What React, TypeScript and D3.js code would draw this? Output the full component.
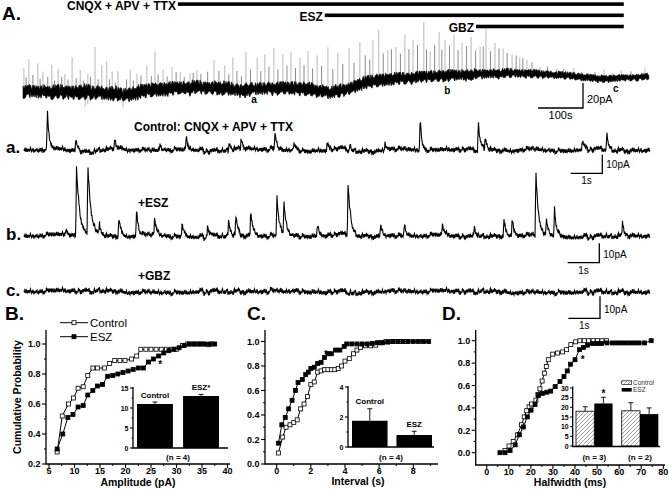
import React from "react";
import * as d3 from "d3";

const FONT = "'Liberation Sans', Arial, Helvetica, sans-serif";

// hand typed noise texture (-1..1), used for the recording traces
const JITTER = [0.3, -0.7, 0.9, -0.2, -0.8, 0.5, 0.1, -0.9, 0.7, -0.4, 0.6, -0.6, 0.2, 0.8, -0.3, -1, 0.4, -0.5, 1, -0.1, -0.7, 0.6, -0.2, 0.9, -0.8, 0.3, 0.5, -0.6, 0.1, -0.9, 0.8, -0.4, 0.2, -0.3, 0.7, -0.8, 0.4, 0.9, -0.5, 0, -0.9, 0.6, -0.1, 0.3, -0.7, 1, -0.4, 0.5, -0.2, -0.6, 0.8, -0.9, 0.1, 0.4, -0.3, 0.7, -0.5, -0.1, 0.9, -0.8, 0.2, 0.6, -0.7, 0.3];
const jit = (i: number) =>
  0.5 * JITTER[i % 64] +
  0.3 * JITTER[(Math.floor(i / 4) * 7 + 5) % 64] +
  0.2 * JITTER[(Math.floor(i / 12) * 13 + 9) % 64];
const edge = (i: number, k: number) =>
  0.7 * JITTER[(i * k + Math.floor(i / 64) * 5) % 64] + 0.3 * JITTER[(Math.floor(i / 5) * 11 + k) % 64];

// ---- A. whole experiment (time s, current pA) ----
const A_DRUGS: [string, number, number][] = [
  ["CNQX + APV + TTX", 344, 1334],
  ["ESZ", 670, 1334],
  ["GBZ", 1006, 1334],
];
const A_BASE = [[0, -0.8], [82, -1.6], [171, -1.6], [224, -4], [282, 0], [349, 1.6], [424, 1.6], [482, 0], [548, 1.6], [615, 1.6], [682, -1.6], [715, 0], [748, 4.8], [793, 8], [859, 9.6], [926, 11.2], [1015, 12.8], [1090, 13.6], [1159, 12.8], [1223, 11.2], [1281, 8.8], [1325, 9.6], [1390, 10.4]];
// half-width of the dense noise band (pA)
const A_NOISE = [[0, 7], [600, 6.5], [800, 6], [1000, 5.5], [1120, 4], [1390, 3.2]];
const A_SPIKES = [[2, 18.4], [13, 25.6], [33, 22.4], [44, 16], [64, 21.6], [78, 18.4], [93, 14.4], [109, 28], [127, 17.6], [144, 14.4], [160, 36], [175, 21.6], [186, 25.6], [198, 17.6], [211, 18.4], [238, 19.2], [253, 15.2], [275, 20], [293, 30.4], [311, 16], [331, 17.2], [349, 12.8], [371, 12], [386, 14.4], [424, 22.4], [448, 18.8], [466, 25.6], [495, 30.4], [520, 24.8], [537, 27], [557, 32], [577, 27.2], [595, 28.8], [615, 24], [633, 30.4], [653, 28], [677, 35.6], [699, 30.4], [724, 32], [748, 33.6], [777, 33.2], [790, 40.4], [810, 23.6], [828, 25.6], [848, 34.8], [866, 30.4], [890, 44], [904, 20], [924, 35], [937, 28.8], [957, 32.4], [975, 25.6], [995, 30], [1015, 21.6], [1028, 36.8], [1048, 24.4], [1066, 20], [1086, 14.4], [1103, 12.8], [1119, 10.8], [1148, 5.6], [1185, 5], [1223, 6.4], [1252, 3.2], [1290, 7.2], [1328, 6.4], [1381, 7.2], [138, -12], [144, -10], [222, -10]];
// the denser, smaller events between the tall ones
const A_SMALL = [[7, 11], [22, 13], [38, 10], [55, 12], [70, 9], [86, 12], [100, 10], [118, 11], [134, 9], [150, 12], [167, 10], [192, 11], [205, 9], [230, 12], [245, 10], [262, 13], [285, 11], [300, 12], [320, 10], [340, 13], [358, 9], [378, 12], [395, 11], [410, 13], [435, 14], [457, 12], [475, 15], [485, 11], [505, 16], [528, 14], [546, 17], [566, 15], [586, 18], [605, 16], [624, 19], [643, 17], [663, 20], [688, 18], [710, 21], [735, 19], [760, 22], [770, 18], [800, 21], [818, 24], [838, 20], [857, 23], [876, 26], [896, 22], [914, 25], [930, 21], [947, 24], [966, 20], [985, 23], [1005, 19], [1022, 22], [1038, 18], [1057, 20], [1075, 16], [1095, 14], [1110, 12], [1130, 9], [1165, 6], [1200, 5], [1240, 4], [1270, 5], [1310, 4], [1350, 5]];
const A_MARKS: [string, number, number][] = [["a", 513, 103], ["b", 942, 94], ["c", 1316, 92]];

// ---- a/b/c. 20 s sweeps: spikes are [time s, amplitude pA, decay s] ----
const SWEEP_DURATION = 19.8;
const a_BASE = [[0, 0], [1, 0.5], [2, -1], [3, 0.8], [4, -0.5], [5, 0.6], [6, -0.8], [7, 0.9], [8, 0.2], [9, -0.6], [10, 0.4], [11, -0.7], [12, 0.5], [13, -0.3], [14, 0.6], [15, -0.5], [16, 0.3], [17, -0.4], [18, 0.5], [19, -0.3], [19.8, 0]];
const a_SPIKES = [[0.74, 21, 0.05], [1.64, 8.2, 0.05], [2.87, 5.5, 0.05], [4.3, 3.5, 0.05], [5.13, 8.2, 0.05], [6.49, 5, 0.05], [6.87, 6.6, 0.05], [7.94, 9.3, 0.05], [8.54, 4, 0.05], [9.59, 4.5, 0.05], [10.3, 3, 0.05], [11.42, 4, 0.05], [12.53, 18.2, 0.05], [14.37, 14.9, 0.06], [14.59, 7.6, 0.05], [17.66, 5.5, 0.05], [18.44, 9.1, 0.05]];
const b_BASE = [[0, 0], [1, 0.6], [2.5, -0.5], [4, 0.4], [5.5, -0.6], [7, 0.3], [8.5, -0.4], [10, 0.5], [11.5, -0.3], [13, 0.4], [14.5, -0.5], [16, 0.3], [17.5, -0.6], [19, 0.3], [19.8, 0]];
const b_SPIKES = [[1.33, 4, 0.05], [1.66, 36, 0.1], [2.02, 35, 0.11], [2.39, 5.2, 0.06], [3.0, 10, 0.06], [3.56, 13.4, 0.06], [4.13, 8.8, 0.07], [5.0, 7.4, 0.07], [5.81, 6.7, 0.06], [6.47, 9.3, 0.06], [6.7, 10.8, 0.06], [7.17, 12.9, 0.07], [8.0, 20, 0.08], [8.22, 17, 0.08], [9.28, 5.7, 0.06], [10.25, 28.4, 0.08], [11.28, 6.7, 0.06], [12.03, 5.7, 0.06], [13.23, 5.7, 0.06], [14.24, 6.7, 0.06], [15.18, 8.2, 0.06], [15.44, 10, 0.06], [16.19, 33, 0.08], [16.52, 9.3, 0.06], [16.78, 15.5, 0.06], [18.93, 5.7, 0.06]];
const c_BASE = [[0, 0.3], [2, 0.6], [4, -0.3], [6, 0.2], [8, 0.4], [10, -0.2], [12, 0.3], [14, 0.4], [16, -0.3], [18, 0.1], [19.8, 0]];
const c_SPIKES: number[][] = [];

// ---- B. amplitude (pA) cumulative ----
const B_CONTROL = [[6.6, 0.28], [7.6, 0.52], [8.8, 0.6], [9.8, 0.64], [10.7, 0.705], [11.7, 0.715], [12.6, 0.79], [13.6, 0.84], [14.5, 0.84], [15.9, 0.84], [16.9, 0.87], [17.9, 0.89], [18.9, 0.89], [19.9, 0.89], [21.2, 0.9], [22.2, 0.92], [23.0, 0.965], [24.0, 0.965], [25.0, 0.965], [26.0, 0.965], [27.0, 0.965], [28.0, 0.965], [29.0, 0.965], [30.0, 0.965], [31.2, 0.99], [32.2, 1.0], [33.2, 1.0], [34.2, 1.0], [35.2, 1.0], [36.2, 0.995], [37.0, 1.0]];
const B_ESZ = [[6.6, 0.3], [7.7, 0.4], [8.7, 0.51], [9.7, 0.53], [10.7, 0.58], [11.7, 0.59], [12.6, 0.66], [13.6, 0.69], [14.5, 0.72], [15.5, 0.73], [16.5, 0.785], [17.5, 0.79], [18.5, 0.8], [19.5, 0.81], [20.5, 0.82], [21.5, 0.83], [22.5, 0.84], [23.5, 0.84], [24.5, 0.88], [25.5, 0.9], [26.5, 0.92], [27.5, 0.94], [28.5, 0.955], [29.5, 0.965], [30.5, 0.975], [31.5, 0.99], [32.5, 1.0], [33.5, 1.0], [34.5, 1.0], [35.5, 1.0], [36.5, 1.0], [37.5, 1.0]];
const B_BARS = ["Control", "ESZ*"];
const B_MEAN = [11.0, 13.0];
const B_SEM = [0.5, 0.4];

// ---- C. interval (s) cumulative ----
const C_CONTROL = [[0.1, 0.09], [0.35, 0.22], [0.55, 0.3], [0.78, 0.32], [1.0, 0.34], [1.2, 0.36], [1.4, 0.45], [1.6, 0.49], [1.8, 0.55], [2.0, 0.65], [2.2, 0.67], [2.4, 0.75], [2.6, 0.76], [2.8, 0.77], [3.0, 0.77], [3.2, 0.77], [3.4, 0.77], [3.6, 0.78], [3.8, 0.8], [4.0, 0.84], [4.25, 0.86], [4.5, 0.9], [4.7, 0.93], [4.9, 0.95], [5.2, 0.965], [5.5, 0.965], [5.8, 0.97], [6.1, 0.99], [6.4, 1.0], [6.7, 1.0], [7.0, 1.0], [7.3, 1.0], [7.6, 1.0]];
const C_ESZ = [[0.1, 0.17], [0.3, 0.32], [0.5, 0.38], [0.7, 0.45], [0.9, 0.52], [1.1, 0.6], [1.25, 0.665], [1.5, 0.69], [1.7, 0.73], [1.85, 0.75], [2.0, 0.78], [2.2, 0.79], [2.4, 0.82], [2.6, 0.83], [2.8, 0.87], [3.0, 0.9], [3.2, 0.9], [3.45, 0.93], [3.7, 0.93], [3.95, 0.96], [4.1, 0.98], [4.4, 0.98], [4.7, 0.98], [5.0, 0.98], [5.3, 0.98], [5.6, 0.985], [5.9, 0.99], [6.2, 0.99], [6.5, 0.995], [6.8, 1.0], [7.1, 1.0], [7.4, 1.0], [7.7, 1.0], [8.0, 1.0], [8.3, 1.0], [8.6, 1.0], [8.9, 1.0]];
const C_BARS = ["Control", "ESZ"];
const C_MEAN = [1.75, 0.8];
const C_SEM = [0.8, 0.25];

// ---- D. halfwidth (ms) cumulative ----
const D_CONTROL = [[8.3, 0.02], [10.1, 0.06], [12, 0.1], [13.9, 0.16], [15.8, 0.25], [17, 0.32], [18.1, 0.375], [19.2, 0.41], [20.3, 0.435], [22.3, 0.47], [23.2, 0.52], [24.1, 0.57], [25.1, 0.64], [26.1, 0.71], [27, 0.77], [27.9, 0.83], [29.9, 0.88], [32.1, 0.89], [34.4, 0.9], [36.2, 0.92], [38.1, 0.965], [40.3, 0.99], [42.2, 1.0], [44.2, 1.0], [46.2, 1.0], [48.2, 1.0], [50.2, 1.0], [52.2, 1.0], [54.3, 1.0]];
const D_ESZ = [[6.0, 0.0], [8.3, 0.0], [10.6, 0.02], [12.9, 0.07], [14.8, 0.16], [16.6, 0.23], [18.4, 0.32], [20.1, 0.38], [21.9, 0.43], [23.4, 0.51], [25.2, 0.53], [27.2, 0.54], [29, 0.55], [31, 0.59], [33.2, 0.635], [35, 0.68], [36.5, 0.73], [38, 0.79], [40, 0.83], [42, 0.92], [43.8, 0.94], [45.7, 0.96], [48, 0.975], [50, 0.975], [52, 0.975], [54.5, 0.98], [57, 0.98], [59, 0.98], [61, 0.98], [63, 0.98], [65, 0.98], [67, 0.98], [69, 0.98], [71.5, 0.98], [74.5, 1.0]];
const D_GROUPS = ["(n = 3)", "(n = 2)"];
const D_SERIES = ["Control", "ESZ"];
const D_CONTROL_MEAN = [18, 18.2];
const D_CONTROL_SEM = [2.3, 4.2];
const D_ESZ_MEAN = [22, 16.5];
const D_ESZ_SEM = [3.2, 3.2];

type Lin = d3.ScaleLinear<number, number>;
const poly = (pts: number[][]) =>
  d3.scaleLinear().domain(pts.map((d) => d[0])).range(pts.map((d) => d[1])).clamp(true);

function tracePath(xs: Lin, ys: Lin, base: Lin, noise: (t: number) => number, spikes: number[][], step: number) {
  const [p0, p1] = xs.range();
  const pts: [number, number][] = [];
  let i = 0;
  for (let px = p0; px <= p1; px += step, i++) {
    const t = xs.invert(px);
    let v = base(t) + noise(t) * jit(i);
    for (const [ts, amp, tau] of spikes) {
      const dt = t - ts;
      if (dt >= 0) v += amp * Math.exp(-dt / tau);
      else if (dt > -0.025) v += amp * (1 + dt / 0.025);
    }
    pts.push([px, ys(v)]);
  }
  return d3.line()(pts) || "";
}

// dense long recording drawn as a ragged band
function bandPath(xs: Lin, ys: Lin, base: Lin, half: Lin, step: number) {
  const [p0, p1] = xs.range();
  const rows: [number, number, number][] = [];
  let i = 0;
  for (let px = p0; px <= p1; px += step, i++) {
    const t = xs.invert(px);
    const h = half(t);
    rows.push([px, ys(base(t) + h * (0.6 + 0.4 * edge(i, 7))), ys(base(t) - h * (0.6 + 0.4 * edge(i, 13)))]);
  }
  return d3.area<[number, number, number]>().x((d) => d[0]).y0((d) => d[2]).y1((d) => d[1])(rows) || "";
}

function ScaleBar({ x, y, w, h, tLabel, iLabel, size }: { x: number; y: number; w: number; h: number; tLabel: string; iLabel: string; size: number }) {
  return (
    <g>
      <path d={`M${x - w},${y}H${x}V${y - h}`} fill="none" stroke="#000" strokeWidth={1.3} />
      <text x={x + 4} y={y - 5} fontSize={size}>{iLabel}</text>
      <text x={x - w / 2} y={y + 11} fontSize={size} textAnchor="middle">{tLabel}</text>
    </g>
  );
}

function Markers({ data, x, y, open }: { data: number[][]; x: Lin; y: Lin; open: boolean }) {
  const line = d3.line<number[]>().x((d) => x(d[0])).y((d) => y(d[1]));
  return (
    <g>
      <path d={line(data) || ""} fill="none" stroke="#000" strokeWidth={1} />
      {data.map((d, i) => (
        <rect key={i} x={x(d[0]) - 2} y={y(d[1]) - 2} width={4} height={4}
          fill={open ? "#fff" : "#000"} stroke="#000" strokeWidth={0.8} />
      ))}
    </g>
  );
}

function Axes({ x, y, ax, ay, xEnd, yTop, xTicks, xMinor, yTicks, yMinor, xFmt, yFmt, size, major, minor }: {
  x: Lin; y: Lin; ax: number; ay: number; xEnd: number; yTop: number;
  xTicks: number[]; xMinor: number[]; yTicks: number[]; yMinor: number[];
  xFmt?: (v: number) => string; yFmt: (v: number) => string; size: number; major: number; minor: number;
}) {
  return (
    <g fontWeight="bold" fontSize={size}>
      <path d={`M${ax},${yTop}V${ay}H${xEnd}`} fill="none" stroke="#000" strokeWidth={1.3} />
      {yTicks.map((v) => (
        <g key={"y" + v}>
          <line x1={ax - major} x2={ax} y1={y(v)} y2={y(v)} stroke="#000" strokeWidth={1.1} />
          <text x={ax - major - 1.5} y={y(v) + size * 0.36} textAnchor="end">{yFmt(v)}</text>
        </g>
      ))}
      {yMinor.map((v) => (
        <line key={"ym" + v} x1={ax - minor} x2={ax} y1={y(v)} y2={y(v)} stroke="#000" strokeWidth={1} />
      ))}
      {xFmt && xTicks.map((v) => (
        <g key={"x" + v}>
          <line x1={x(v)} x2={x(v)} y1={ay} y2={ay + major} stroke="#000" strokeWidth={1.1} />
          <text x={x(v)} y={ay + 10} textAnchor="middle">{xFmt(v)}</text>
        </g>
      ))}
      {xFmt && xMinor.map((v) => (
        <line key={"xm" + v} x1={x(v)} x2={x(v)} y1={ay} y2={ay + minor} stroke="#000" strokeWidth={1} />
      ))}
    </g>
  );
}

function ErrBar({ cx, y0, y1 }: { cx: number; y0: number; y1: number }) {
  return <path d={`M${cx},${y0}V${y1}M${cx - 2.5},${y1}H${cx + 2.5}`} stroke="#000" strokeWidth={0.9} fill="none" />;
}

export default function App() {
  // A
  const xA = d3.scaleLinear().domain([0, 1390]).range([23, 649]);
  const yA = d3.scaleLinear().domain([0, 20]).range([90, 65]);
  const baseA = poly(A_BASE);
  const bandA = bandPath(xA, yA, baseA, poly(A_NOISE), 0.7);

  // sweeps
  const xs = d3.scaleLinear().domain([0, SWEEP_DURATION]).range([24, 650]);
  const ya = d3.scaleLinear().domain([0, 10]).range([150, 131.5]);
  const yb = d3.scaleLinear().domain([0, 10]).range([236, 216.5]);
  const yc = d3.scaleLinear().domain([0, 10]).range([292, 270]);
  const patha = tracePath(xs, ya, poly(a_BASE), () => 2.4, a_SPIKES, 0.5);
  const pathb = tracePath(xs, yb, poly(b_BASE), () => 2.3, b_SPIKES, 0.5);
  const pathc = tracePath(xs, yc, poly(c_BASE), () => 2.1, c_SPIKES, 0.5);
  const secPx = xs(1) - xs(0);

  // cumulative panels
  const xB = d3.scaleLinear().domain([5, 40]).range([49, 227.5]);
  const yB = d3.scaleLinear().domain([0.2, 1]).range([464, 344]);
  const xC = d3.scaleLinear().domain([0, 8]).range([276.7, 413.3]);
  const yC = d3.scaleLinear().domain([0, 1]).range([464, 341.5]);
  const xD = d3.scaleLinear().domain([0, 80]).range([486.7, 663.3]);
  const yD = d3.scaleLinear().domain([0, 1]).range([452.7, 340.7]);
  const f1 = (v: number) => v.toFixed(1);
  const f0 = (v: number) => String(v);
  const prob = [0, 0.2, 0.4, 0.6, 0.8, 1.0];
  const probMinor = [0.1, 0.3, 0.5, 0.7, 0.9];

  // insets
  const yBi = d3.scaleLinear().domain([0, 15]).range([448, 388]);
  const bandB = d3.scaleBand<string>().domain(B_BARS).range([137, 219]).paddingInner(0.22);
  const yCi = d3.scaleLinear().domain([0, 4]).range([447, 387]);
  const bandC = d3.scaleBand<string>().domain(C_BARS).range([352, 432]).paddingInner(0.2);
  const yDi = d3.scaleLinear().domain([0, 30]).range([446, 388]);
  const bandD = d3.scaleBand<string>().domain(D_GROUPS).range([576, 658.3]).paddingInner(0.2);
  const subD = d3.scaleBand<string>().domain(D_SERIES).range([0, bandD.bandwidth()]);

  const legendLine = (y: number, open: boolean) => (
    <g>
      <line x1={60} x2={88} y1={y} y2={y} stroke="#000" strokeWidth={1} />
      <rect x={72} y={y - 2} width={4} height={4} fill={open ? "#fff" : "#000"} stroke="#000" strokeWidth={0.8} />
    </g>
  );

  return (
    <svg width={669} height={489} style={{ position: "absolute", left: 0, top: 0, background: "#fff" }} fontFamily={FONT}>
      <defs>
        <pattern id="hatch" patternUnits="userSpaceOnUse" width={4} height={4}>
          <path d="M-1,1l2,-2M0,4l4,-4M3,5l2,-2" stroke="#888" strokeWidth={0.8} />
        </pattern>
      </defs>

      {/* ---------- A ---------- */}
      <text x={2} y={20} fontSize={19} fontWeight="bold">A.</text>
      {A_DRUGS.map(([name, s, e], i) => (
        <g key={name}>
          <rect x={xA(s)} y={2.3 + i * 11.2} width={xA(e) - xA(s)} height={3.6} fill="#000" />
          <text x={xA(s) - 2} y={9.6 + i * 11.2} fontSize={12} fontWeight="bold" textAnchor="end">{name}</text>
        </g>
      ))}
      {A_SMALL.map(([t, amp], i) => (
        <line key={"s" + i} x1={xA(t)} x2={xA(t)} y1={yA(baseA(t))} y2={yA(baseA(t) + amp)} stroke="#555" strokeWidth={0.7} />
      ))}
      {A_SPIKES.map(([t, amp], i) => (
        <line key={i} x1={xA(t)} x2={xA(t)} y1={yA(baseA(t))} y2={yA(baseA(t) + amp)} stroke="#999" strokeWidth={0.7} />
      ))}
      <path d={bandA} fill="#000" stroke="#000" strokeWidth={0.6} />
      {A_MARKS.map(([m, t, y]) => (
        <text key={m} x={xA(t)} y={y} fontSize={10} fontWeight="bold" textAnchor="middle">{m}</text>
      ))}
      <ScaleBar x={583} y={108} w={xA(100) - xA(0)} h={yA(0) - yA(20)} tLabel="100s" iLabel="20pA" size={11} />

      {/* ---------- a / b / c ---------- */}
      <text x={134} y={131} fontSize={12} fontWeight="bold">Control: CNQX + APV + TTX</text>
      <text x={6} y={153} fontSize={17} fontWeight="bold">a.</text>
      <path d={patha} fill="none" stroke="#000" strokeWidth={1.1} />
      <ScaleBar x={602.3} y={173.3} w={secPx} h={ya(0) - ya(10)} tLabel="1s" iLabel="10pA" size={10} />

      <text x={138} y={207} fontSize={12} fontWeight="bold">+ESZ</text>
      <text x={6} y={240} fontSize={17} fontWeight="bold">b.</text>
      <path d={pathb} fill="none" stroke="#000" strokeWidth={1.1} />
      <ScaleBar x={599.3} y={262.7} w={secPx} h={yb(0) - yb(10)} tLabel="1s" iLabel="10pA" size={10} />

      <text x={138} y={280} fontSize={12} fontWeight="bold">+GBZ</text>
      <text x={6} y={296} fontSize={17} fontWeight="bold">c.</text>
      <path d={pathc} fill="none" stroke="#000" strokeWidth={1.1} />
      <ScaleBar x={600} y={318.3} w={secPx} h={yc(0) - yc(10)} tLabel="1s" iLabel="10pA" size={10} />

      {/* ---------- B ---------- */}
      <text x={5} y={320} fontSize={19} fontWeight="bold">B.</text>
      {legendLine(322.7, true)}
      <text x={90} y={326.7} fontSize={11.5}>Control</text>
      {legendLine(336.7, false)}
      <text x={90} y={340.7} fontSize={11.5}>ESZ</text>
      <Axes x={xB} y={yB} ax={46} ay={464} xEnd={230} yTop={330}
        xTicks={d3.range(5, 41, 5)} xMinor={d3.range(7.5, 40, 5)}
        yTicks={[0.2, 0.4, 0.6, 0.8, 1.0]} yMinor={[0.3, 0.5, 0.7, 0.9]}
        xFmt={f0} yFmt={f1} size={9} major={4} minor={2} />
      <text transform="translate(20.5,397) rotate(-90)" fontSize={10.5} fontWeight="bold" textAnchor="middle">Cumulative Probability</text>
      <text x={138} y={486} fontSize={10.5} fontWeight="bold" textAnchor="middle">Amplitude (pA)</text>
      <Markers data={B_CONTROL} x={xB} y={yB} open={true} />
      <Markers data={B_ESZ} x={xB} y={yB} open={false} />
      <text x={xB(26.8)} y={yB(0.88) + 5.5} fontSize={10} fontWeight="bold" textAnchor="middle">*</text>
      {/* inset */}
      <Axes x={xB} y={yBi} ax={133} ay={448} xEnd={228} yTop={387}
        xTicks={[]} xMinor={[]} yTicks={[0, 5, 10, 15]} yMinor={[2.5, 7.5, 12.5]}
        yFmt={f0} size={7} major={3} minor={1.5} />
      {B_BARS.map((k, i) => {
        const cx = (bandB(k) as number) + bandB.bandwidth() / 2;
        return (
          <g key={k}>
            <rect x={bandB(k)} y={yBi(B_MEAN[i])} width={bandB.bandwidth()} height={yBi(0) - yBi(B_MEAN[i])} fill="#000" />
            <ErrBar cx={cx} y0={yBi(B_MEAN[i])} y1={yBi(B_MEAN[i] + B_SEM[i])} />
            <text x={cx} y={yBi(B_MEAN[i] + B_SEM[i]) - 4.5} fontSize={8} fontWeight="bold" textAnchor="middle">{k}</text>
          </g>
        );
      })}
      <text x={178} y={460} fontSize={8} fontWeight="bold" textAnchor="middle">(n = 4)</text>

      {/* ---------- C ---------- */}
      <text x={247} y={320} fontSize={19} fontWeight="bold">C.</text>
      <Axes x={xC} y={yC} ax={265} ay={464} xEnd={438} yTop={330}
        xTicks={[0, 2, 4, 6, 8]} xMinor={[1, 3, 5, 7, 9]}
        yTicks={prob} yMinor={probMinor}
        xFmt={f0} yFmt={f1} size={9} major={4} minor={2} />
      <text x={358} y={485} fontSize={10.5} fontWeight="bold" textAnchor="middle">Interval (s)</text>
      <Markers data={C_CONTROL} x={xC} y={yC} open={true} />
      <Markers data={C_ESZ} x={xC} y={yC} open={false} />
      <text x={xC(2.89)} y={yC(0.914) + 5.5} fontSize={10} fontWeight="bold" textAnchor="middle">*</text>
      <Axes x={xC} y={yCi} ax={348} ay={447} xEnd={434} yTop={386}
        xTicks={[]} xMinor={[]} yTicks={[0, 2, 4]} yMinor={[1, 3]}
        yFmt={f0} size={7} major={3} minor={1.5} />
      {C_BARS.map((k, i) => {
        const cx = (bandC(k) as number) + bandC.bandwidth() / 2;
        return (
          <g key={k}>
            <rect x={bandC(k)} y={yCi(C_MEAN[i])} width={bandC.bandwidth()} height={yCi(0) - yCi(C_MEAN[i])} fill="#000" />
            <ErrBar cx={cx} y0={yCi(C_MEAN[i])} y1={yCi(C_MEAN[i] + C_SEM[i])} />
            <text x={cx} y={yCi(C_MEAN[i] + C_SEM[i]) - 4.5} fontSize={8} fontWeight="bold" textAnchor="middle">{k}</text>
          </g>
        );
      })}
      <text x={391} y={460} fontSize={8} fontWeight="bold" textAnchor="middle">(n = 4)</text>

      {/* ---------- D ---------- */}
      <text x={442} y={320} fontSize={19} fontWeight="bold">D.</text>
      <Axes x={xD} y={yD} ax={475.7} ay={465} xEnd={665} yTop={330}
        xTicks={d3.range(0, 81, 10)} xMinor={d3.range(5, 80, 10)}
        yTicks={prob} yMinor={probMinor}
        xFmt={f0} yFmt={f1} size={9} major={4} minor={2} />
      <text x={570} y={486} fontSize={10.5} fontWeight="bold" textAnchor="middle">Halfwidth (ms)</text>
      <Markers data={D_CONTROL} x={xD} y={yD} open={true} />
      <Markers data={D_ESZ} x={xD} y={yD} open={false} />
      <text x={xD(43.5)} y={yD(0.85) + 5.5} fontSize={10} fontWeight="bold" textAnchor="middle">*</text>
      <Axes x={xD} y={yDi} ax={572.7} ay={446.5} xEnd={660} yTop={386.5}
        xTicks={[]} xMinor={[]} yTicks={[0, 5, 10, 15, 20, 25, 30]} yMinor={[]}
        yFmt={f0} size={7} major={2.5} minor={1.5} />
      {D_GROUPS.map((g, gi) => {
        const gx = bandD(g) as number;
        const bw = subD.bandwidth();
        const cm = D_CONTROL_MEAN[gi], cs = D_CONTROL_SEM[gi];
        const em = D_ESZ_MEAN[gi], es = D_ESZ_SEM[gi];
        const cx0 = gx + (subD("Control") as number);
        const ex0 = gx + (subD("ESZ") as number);
        return (
          <g key={g}>
            <rect x={cx0} y={yDi(cm)} width={bw} height={yDi(0) - yDi(cm)} fill="url(#hatch)" stroke="#000" strokeWidth={0.8} />
            <ErrBar cx={cx0 + bw / 2} y0={yDi(cm)} y1={yDi(cm + cs)} />
            <rect x={ex0} y={yDi(em)} width={bw} height={yDi(0) - yDi(em)} fill="#000" />
            <ErrBar cx={ex0 + bw / 2} y0={yDi(em)} y1={yDi(em + es)} />
            <text x={gx + bandD.bandwidth() / 2} y={460} fontSize={8} fontWeight="bold" textAnchor="middle">{g}</text>
          </g>
        );
      })}
      <text x={(bandD(D_GROUPS[0]) as number) + (subD("ESZ") as number) + subD.bandwidth() / 2} y={396.5} fontSize={10} fontWeight="bold" textAnchor="middle">*</text>
      <rect x={621.7} y={380.8} width={10} height={3.6} fill="url(#hatch)" stroke="#000" strokeWidth={0.6} />
      <text x={633} y={384.6} fontSize={6.5} fill="#333">Control</text>
      <rect x={621.7} y={388} width={10} height={3.6} fill="#000" />
      <text x={633} y={391.8} fontSize={6.5} fill="#333">ESZ</text>
    </svg>
  );
}
